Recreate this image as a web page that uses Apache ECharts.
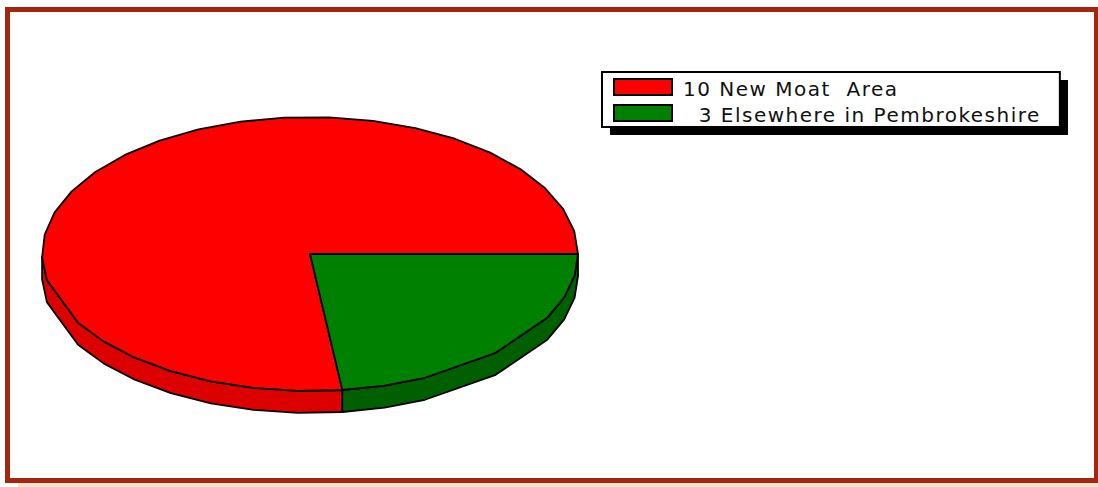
<!DOCTYPE html>
<html>
<head>
<meta charset="utf-8">
<style>html,body{margin:0;padding:0;background:#fff}#c{width:1098px;height:487px}
#c text{letter-spacing:1.5px;white-space:pre;translate:0 2px}</style>
<script src="https://cdn.jsdelivr.net/npm/echarts@6/dist/echarts.min.js"></script>
</head>
<body>
<div id="c"></div>
<script>
var categories = ['10 New Moat  Area', '  3 Elsewhere in Pembrokeshire'];
var values = [10, 3];
var topColors = ['#ff0000', '#008000'];
var sideColors = ['#dd0000', '#006000'];
var segments = [29, 9];
var droppedVertices = [[8], [4, 6]];

var CX = 310, CY = 254, RX = 268, RY = 137, DEPTH = 22;
var total = values[0] + values[1];
// slices run clockwise on screen: green first from 3 o'clock, then red
var spans = {1: [0, values[1] / total * 360], 0: [values[1] / total * 360, 360]};

function pt(deg, dy) {
  var r = deg * Math.PI / 180;
  return [CX + RX * Math.cos(r), CY + RY * Math.sin(r) + (dy || 0)];
}
function makeRender(idx) {
  return function (params, api) {
    var s = spans[idx], n = segments[idx], angs = [];
    for (var i = 0; i <= n; i++) {
      if (droppedVertices[idx].indexOf(i) < 0) angs.push(s[0] + (s[1] - s[0]) * i / n);
    }
    var front = angs.filter(function (a) { return a <= 180; });
    var side = front.map(function (a) { return pt(a); })
      .concat(front.slice().reverse().map(function (a) { return pt(a, DEPTH); }));
    var top = [[CX, CY]].concat(angs.map(function (a) { return pt(a); }));
    var line = {stroke: '#000', lineWidth: 1.8, lineJoin: 'round'};
    return {type: 'group', children: [
      {type: 'polygon', shape: {points: side}, style: Object.assign({fill: sideColors[idx]}, line)},
      {type: 'polygon', shape: {points: top}, style: Object.assign({fill: topColors[idx]}, line)}
    ]};
  };
}

var chart = echarts.init(document.getElementById('c'), null, {renderer: 'svg'});
chart.setOption({
  animation: false,
  backgroundColor: '#fff',
  legend: {
    left: 602, top: 72, orient: 'vertical', selectedMode: false,
    data: categories,
    icon: 'rect', itemWidth: 58, itemHeight: 16, itemGap: 6,
    padding: [5, 64, 4, 11], z: 10,
    backgroundColor: '#fff', borderColor: '#000', borderWidth: 2,
    textStyle: {fontFamily: 'DejaVu Sans', fontSize: 20, color: '#111', padding: [0, 0, 0, 6]},
    itemStyle: {borderColor: '#000', borderWidth: 2}
  },
  graphic: [
    {type: 'rect', silent: true, z: -2, shape: {x: 18, y: 483, width: 1080, height: 4}, style: {fill: '#fbe0cf'}},
    {type: 'rect', silent: true, z: 1, shape: {x: 610, y: 80, width: 458, height: 55}, style: {fill: '#000'}},
    {type: 'rect', silent: true, z: 100, shape: {x: 7.5, y: 9.5, width: 1089, height: 471}, style: {fill: 'transparent', stroke: '#a5260e', lineWidth: 5}}
  ],
  series: categories.map(function (name, i) {
    return {
      type: 'custom', name: name, coordinateSystem: 'none',
      itemStyle: {color: topColors[i]},
      data: [[values[i]]], renderItem: makeRender(i), silent: true
    };
  })
});
</script>
</body>
</html>
